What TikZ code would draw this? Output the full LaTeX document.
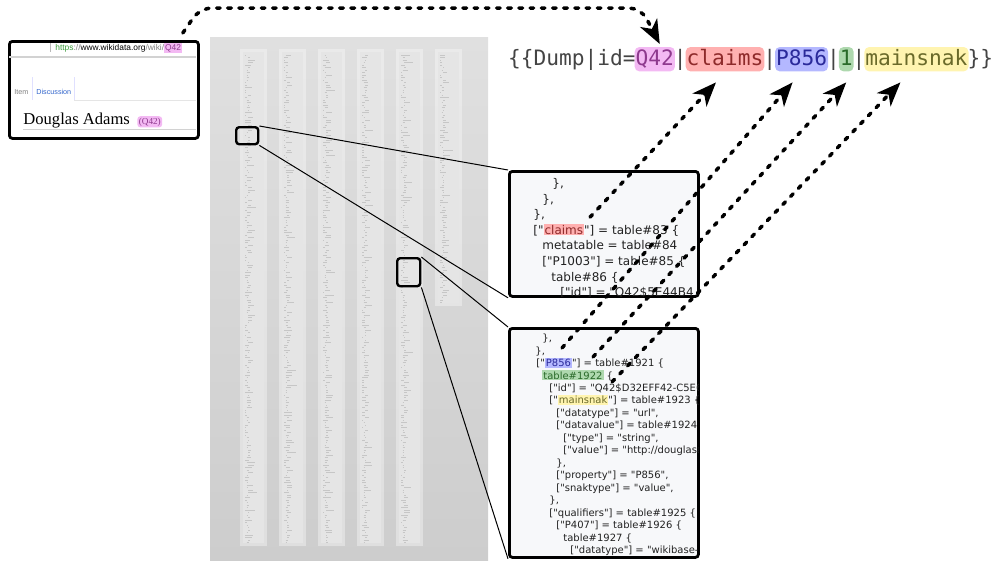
\documentclass[tikz,border=0pt]{standalone}
\usepackage{fontspec}
\usepackage{xcolor}
\usetikzlibrary{positioning,arrows.meta}

\setmainfont{DejaVu Sans}[Ligatures=TeXOff]
\newfontfamily\monofont{DejaVu Sans Mono}[Ligatures=TeXOff]
\newfontfamily\webfont{Liberation Sans}
\newfontfamily\pagefont{Liberation Serif}

\definecolor{q42bg}{HTML}{F3B9F3}
\definecolor{q42fg}{HTML}{8E3A8E}
\definecolor{claimsbg}{HTML}{FFB0B0}
\definecolor{claimsfg}{HTML}{8E2A2A}
\definecolor{propbg}{HTML}{B4B8FF}
\definecolor{propfg}{HTML}{2A2A9A}
\definecolor{onebg}{HTML}{AED8AE}
\definecolor{onefg}{HTML}{2A6A2A}
\definecolor{snakbg}{HTML}{FFF4B0}
\definecolor{snakfg}{HTML}{6A6A2A}
\definecolor{tplgray}{HTML}{444444}
\definecolor{codebg}{HTML}{F7F8FA}
\definecolor{codetext}{HTML}{222222}
\definecolor{urlgreen}{HTML}{3A9A3A}
\definecolor{wikiblue}{HTML}{3366CC}
\definecolor{panelTop}{HTML}{E0E0E0}
\definecolor{panelMid}{HTML}{FAFAFA}
\definecolor{panelBot}{HTML}{CDCDCD}
\definecolor{colfill}{HTML}{E5E5E5}

\newcommand{\hlword}[3]{{\setlength{\fboxsep}{0.5pt}\colorbox{#1}{\textcolor{#2}{#3}}}}

\tikzset{
  frame/.style={draw, line width=1.4pt, rounded corners=1.5pt, anchor=north west, inner sep=0},
  codebox/.style={frame, fill=codebg},
  bigcode/.style={anchor=base west, inner sep=0, text=codetext, font=\fontsize{6}{7}\selectfont},
  smallcode/.style={anchor=base west, inner sep=0, text=codetext, font=\fontsize{5}{6}\selectfont},
  webtext/.style={anchor=base west, inner sep=0, font=\webfont\fontsize{#1}{5}\selectfont},
  tpl/.style={inner xsep=0, inner ysep=0.5pt, outer sep=0, text height=8pt, text depth=2.2pt, text=tplgray, font=\monofont\fontsize{10.6}{12}\selectfont},
  tplhl/.style={tpl, fill=#1, draw=#1, line width=1pt, rounded corners=2pt},
  zoomline/.style={line width=0.5pt},
  dasharrow/.style={line width=1.75pt, dash pattern=on 1.8pt off 3.8pt, line cap=round, -{Stealth[length=12pt,width=9.5pt,inset=3.5pt]}}
}

\begin{document}
\begin{tikzpicture}[x=0.5pt, y=-0.5pt]
\useasboundingbox (0,0) rectangle (1000,568);

% item page of the entity
\node[frame, fill=white, minimum width=94.5pt, minimum height=48.5pt] (browser) at (8,40) {};
\draw[gray!55] (50,43) -- (50,52);
\node[webtext=4.2] (url) at (55,50) {\textcolor{urlgreen}{https}\textcolor{gray}{://}www.wikidata.org\textcolor{gray}{/wiki/}\hlword{q42bg}{q42fg}{Q42}};
\draw[gray!35, line width=0.8pt] (9,57) -- (196,57);
% tabs
\draw[blue!12] (32,77) -- (32,100) (74,77) -- (74,100);
\draw[gray!20] (74,100) -- (196,100);
\node[webtext=3.6, text=gray] (tabitem) at (14,94) {Item};
\node[webtext=3.6, text=wikiblue] (tabdisc) at (36,94) {Discussion};
\node[anchor=base west, inner sep=0, font=\pagefont\fontsize{8.3}{9}\selectfont] (label) at (23,124) {Douglas Adams};
\node[anchor=base west, inner sep=0.7pt, fill=q42bg, rounded corners=1.5pt, text=q42fg, font=\pagefont\fontsize{4.6}{5}\selectfont] (badge) at (137,124) {(Q42)};
\draw[gray!35] (23,129) -- (196,129);

% the whole dump, six columns
\shade[top color=panelTop, middle color=panelMid, bottom color=panelBot] (210,37) rectangle (488,560);
\pgfmathsetseed{42}
\foreach \cx/\cbot in {243/543,282/543,321/543,360/543,399/543,438/303} {
  \fill[white, opacity=0.35] (\cx-3,49) rectangle (\cx+24,\cbot+3);
  \fill[colfill] (\cx,52) rectangle (\cx+21,\cbot);
  % tiny lines of text
  \foreach \cy in {55,57.5,...,\cbot} {
    \pgfmathsetmacro{\dx}{2+1.5*int(3*rnd)}
    \pgfmathsetmacro{\len}{1+9*rnd*rnd}
    \draw[gray!45, line width=0.25pt] (\cx+\dx,\cy) -- ++(\len,0);
  }
}

% zoomed parts
\node[frame, line width=1.2pt, minimum width=11pt, minimum height=8.5pt] (zbA) at (235,126) {};
\node[frame, line width=1.2pt, minimum width=11.5pt, minimum height=14pt] (zbB) at (396,257) {};
\node[codebox, minimum width=94.5pt, minimum height=62.5pt] (cbA) at (508,170) {};
\node[codebox, minimum width=94.5pt, minimum height=114.5pt] (cbB) at (508,327) {};
\draw[zoomline] (zbA.north east) -- (cbA.north west);
\draw[zoomline] (zbA.south east) -- (cbA.south west);
\draw[zoomline] (zbB.north east) -- (cbB.north west);
\draw[zoomline] (zbB.south east) -- (cbB.south west);

% first box, claims
\begin{scope}
\clip ([shift={(1.5,1.5)}]cbA.north west) rectangle ([shift={(-1.5,-1.5)}]cbA.south east);
\node[bigcode] (la1) at (552,187.5) {\},};
\node[bigcode] (la2) at (542,203) {\},};
\node[bigcode] (la3) at (533,218.6) {\},};
\node[bigcode] (la4) at (533,234.2) {["\hlword{claimsbg}{claimsfg}{claims}"] = table\#83 \{};
\node[bigcode] (la5) at (542,249.8) {metatable = table\#84};
\node[bigcode] (la6) at (542,265.4) {["P1003"] = table\#85 \{};
\node[bigcode] (la7) at (551,281) {table\#86 \{};
\node[bigcode] (la8) at (560,296.6) {["id"] = "Q42\$5E44B4};
\end{scope}

% second box, P856
\begin{scope}
\clip ([shift={(1.5,1.5)}]cbB.north west) rectangle ([shift={(-1.5,-1.5)}]cbB.south east);
\node[smallcode] (lb1) at (542,341.5) {\},};
\node[smallcode] (lb2) at (535,354) {\},};
\node[smallcode] (lb3) at (536,366.5) {["\hlword{propbg}{propfg}{P856}"] = table\#1921 \{};
\node[smallcode] (lb4) at (542,379) {\hlword{onebg}{onefg}{table\#1922} \{};
\node[smallcode] (lb5) at (549,391.4) {["id"] = "Q42\$D32EFF42-C5E6-4E57-A2DF"};
\node[smallcode] (lb6) at (549,403.9) {["\hlword{snakbg}{snakfg}{mainsnak}"] = table\#1923 \{};
\node[smallcode] (lb7) at (556,416.4) {["datatype"] = "url",};
\node[smallcode] (lb8) at (556,428.9) {["datavalue"] = table\#1924 \{};
\node[smallcode] (lb9) at (563,441.4) {["type"] = "string",};
\node[smallcode] (lb10) at (563,453.9) {["value"] = "http://douglasadams.com/",};
\node[smallcode] (lb11) at (556,466.4) {\},};
\node[smallcode] (lb12) at (556,478.8) {["property"] = "P856",};
\node[smallcode] (lb13) at (556,491.3) {["snaktype"] = "value",};
\node[smallcode] (lb14) at (549,503.8) {\},};
\node[smallcode] (lb15) at (549,516.3) {["qualifiers"] = table\#1925 \{};
\node[smallcode] (lb16) at (556,528.8) {["P407"] = table\#1926 \{};
\node[smallcode] (lb17) at (563,541.3) {table\#1927 \{};
\node[smallcode] (lb18) at (570,553.8) {["datatype"] = "wikibase-item",};
\end{scope}

% template call
\node[tpl, anchor=base west] (tDump) at (508,65) {\{\{Dump|id=};
\node[tplhl=q42bg, text=q42fg, right=0pt of tDump] (tQ42) {Q42};
\node[tpl, right=0pt of tQ42] (tbarA) {|};
\node[tplhl=claimsbg, text=claimsfg, right=0pt of tbarA] (tclaims) {claims};
\node[tpl, right=0pt of tclaims] (tbarB) {|};
\node[tplhl=propbg, text=propfg, right=0pt of tbarB] (tP856) {P856};
\node[tpl, right=0pt of tP856] (tbarC) {|};
\node[tplhl=onebg, text=onefg, right=0pt of tbarC] (tOne) {1};
\node[tpl, right=0pt of tOne] (tbarD) {|};
\node[tplhl=snakbg, text=snakfg, right=0pt of tbarD] (tmainsnak) {mainsnak};
\node[tpl, right=0pt of tmainsnak] (tEnd) {\}\}};

% links into the template
\draw[dasharrow, rounded corners=6pt] ([shift={(-17,-7)}]browser.north east) -- (200,8) -- (641,8) -- ([shift={(5,-4)}]tQ42.north);
\draw[dasharrow] ([shift={(57,-17)}]la4.base west) -- ([shift={(-9,12)}]tclaims.south);
\draw[dasharrow] ([shift={(26,-18.5)}]lb3.base west) -- ([shift={(-9,12)}]tP856.south);
\draw[dasharrow] ([shift={(51,-22)}]lb4.base west) -- ([shift={(0,12)}]tOne.south);
\draw[dasharrow] ([shift={(63,-22)}]lb6.base west) -- ([shift={(-16,12)}]tmainsnak.south);

\end{tikzpicture}
\end{document}
